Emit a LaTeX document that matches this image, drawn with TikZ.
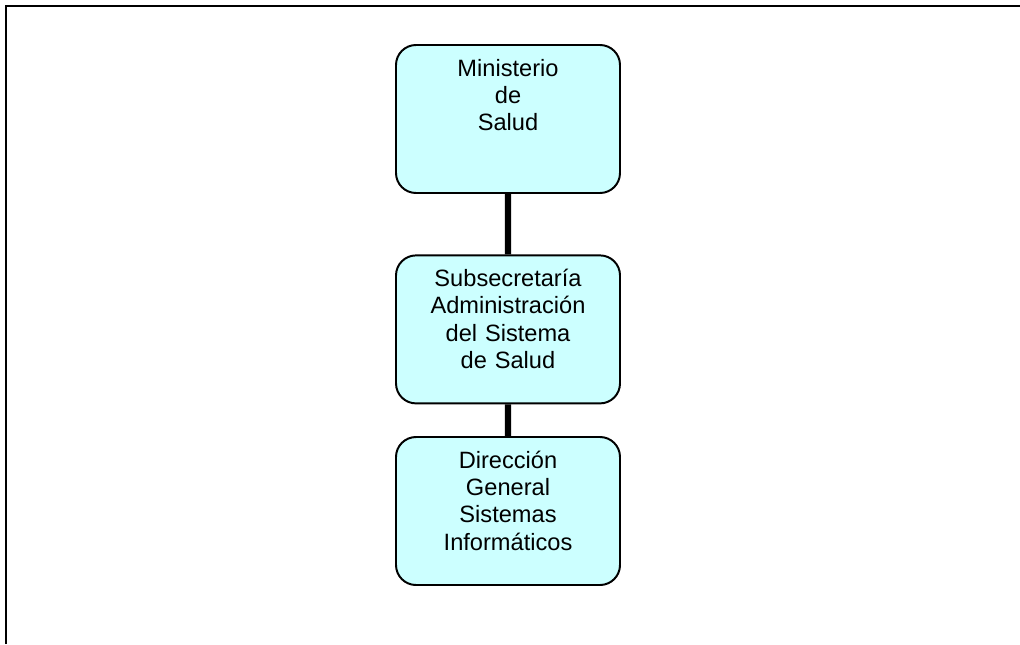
\documentclass[tikz,border=0pt]{standalone}
\usepackage{fontspec}
\setmainfont{Liberation Sans}
\definecolor{boxfill}{RGB}{204,255,255}
\tikzset{
  orgbox/.style={draw, line width=1.4pt, fill=boxfill, rounded corners=0.5cm,
    minimum width=5.6cm, inner xsep=0pt, inner ysep=0pt, align=center,
    text height=0.78cm, text depth=2.92cm, text width=5.6cm,
    font=\fontsize{16.8}{19.4}\selectfont}
}
\begin{document}
\begin{tikzpicture}[level 1/.style={level distance=5.26cm},
  level 2/.style={level distance=4.54cm},
  edge from parent/.style={draw, line width=4.3pt}]
  \useasboundingbox (0,0) rectangle (25.5,-16.1);
  \draw[line width=1.5pt] (0.15,-16.1) -- (0.15,-0.15) -- (25.5,-0.15);
  \node[orgbox] (ministerio) at (12.7,-2.975) {Ministerio\\de\\Salud}
    child {node[orgbox] (subsecretaria) {Subsecretaría\\Administración\\del Sistema\\de Salud}
      child {node[orgbox] (direccion) {Dirección\\General\\Sistemas\\Informáticos}}
    };
\end{tikzpicture}
\end{document}
